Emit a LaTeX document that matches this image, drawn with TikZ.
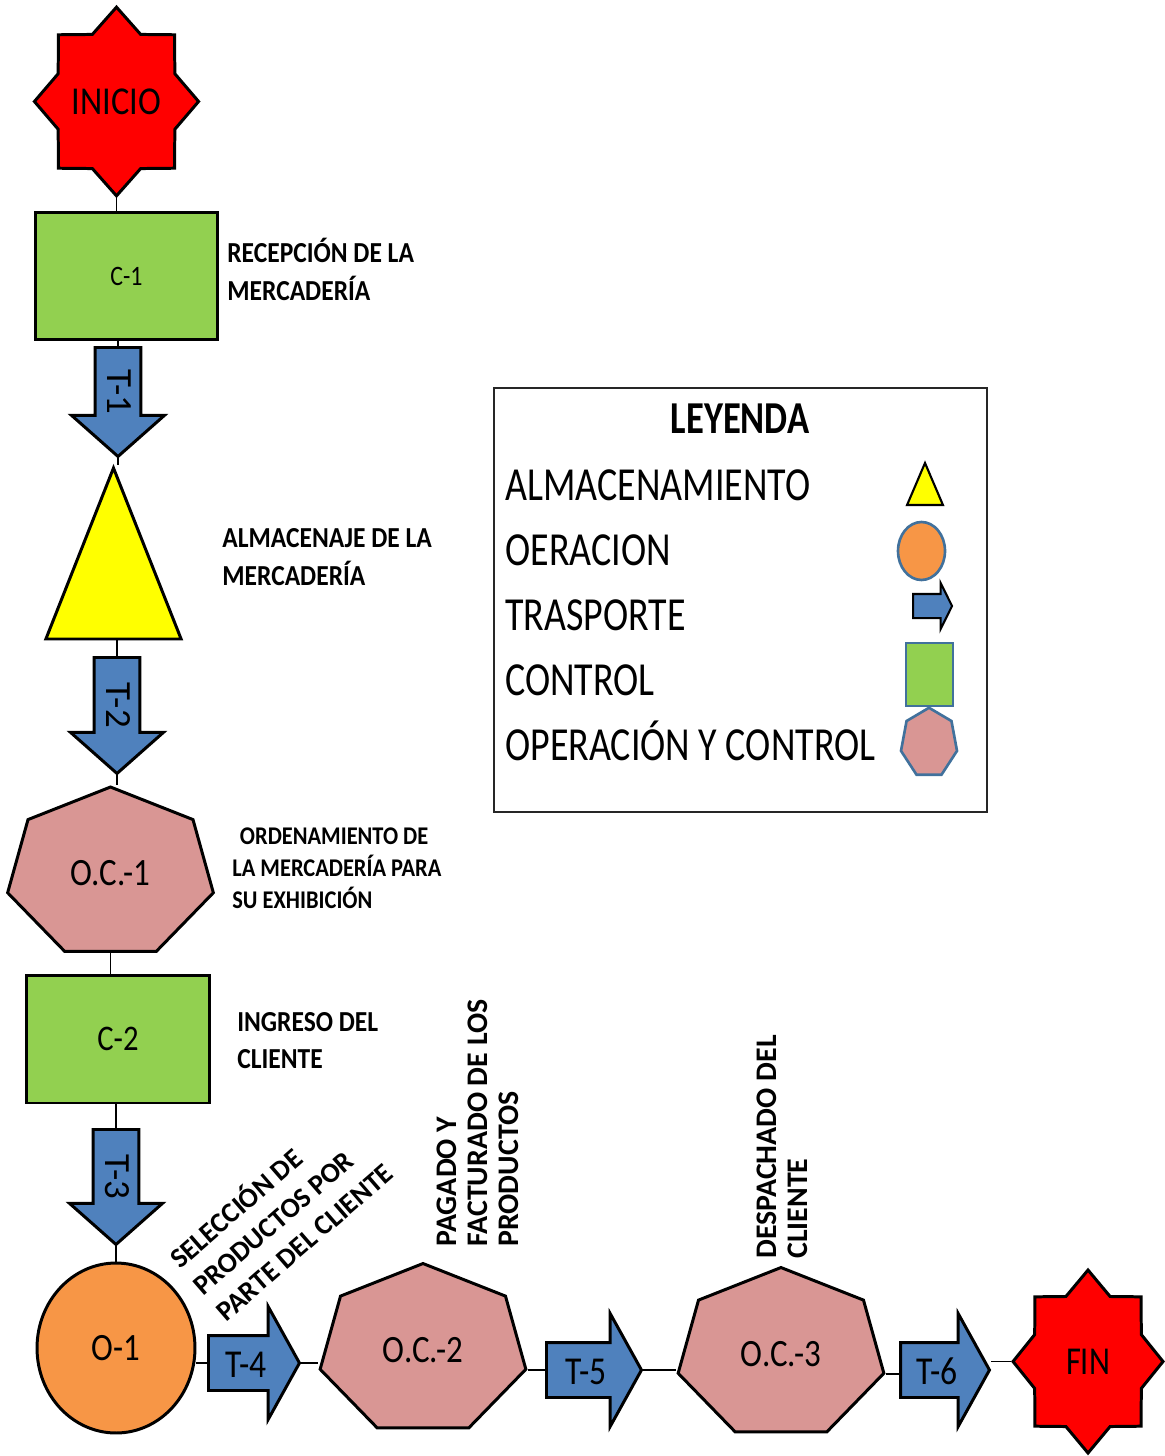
\documentclass[tikz,border=0pt]{standalone}
\usepackage{fontspec}
\setmainfont{Carlito}[FakeStretch=0.85]
\newfontfamily\rotfont{Carlito}
\newfontfamily\heptfont{Carlito}[FakeStretch=0.7]
\newfontfamily\lblfont{Carlito}[FakeStretch=0.88]
\newfontfamily\legfont{Carlito}[FakeStretch=0.8]
\usetikzlibrary{shapes.geometric, shapes.arrows, positioning}

\definecolor{inired}{HTML}{FF0000}
\definecolor{ctrlgreen}{HTML}{92D050}
\definecolor{almyellow}{HTML}{FFFF00}
\definecolor{trblue}{HTML}{4F81BD}
\definecolor{ocpink}{HTML}{D99694}
\definecolor{oporange}{HTML}{F79646}
\definecolor{iconblue}{HTML}{41719C}

\tikzset{
    link/.style={draw=black, line width=1.1pt},
    shapeline/.style={draw=black, line width=1.7pt},
    startend/.style={star, star points=8, star point ratio=1.3, fill=inired, shapeline, inner sep=0pt,
        font=\rotfont\fontsize{22.5}{27}\selectfont},
    control/.style={rectangle, fill=ctrlgreen, shapeline, minimum width=3.66cm, minimum height=2.56cm, inner sep=0pt},
    storage/.style={regular polygon, regular polygon sides=3, fill=almyellow, shapeline, inner sep=0pt},
    opctrl/.style={regular polygon, regular polygon sides=7, minimum size=3.46cm, xscale=1.22, fill=ocpink,
        shapeline, inner sep=0pt, font=\heptfont\fontsize{22}{26}\selectfont},
    operation/.style={ellipse, fill=oporange, shapeline, inner sep=0pt, font=\fontsize{22}{26}\selectfont},
    vtrans/.style={single arrow, rotate=-90, fill=trblue, shapeline, inner sep=0pt, text height=0.64cm,
        text depth=0.22cm, single arrow head extend=0.47cm, single arrow tip angle=97,
        font=\rotfont\fontsize{21}{25}\selectfont},
    htrans/.style={single arrow, fill=trblue, shapeline, inner sep=0pt, text height=0.8cm,
        text depth=0.24cm, single arrow head extend=0.58cm, single arrow tip angle=122,
        font=\fontsize{22.5}{27}\selectfont},
    lbl/.style={inner sep=0pt, align=left, font=\lblfont\bfseries\fontsize{16.5}{21.3}\selectfont},
    rotlbl/.style={inner sep=0pt, align=left, font=\rotfont\bfseries\fontsize{17}{17.4}\selectfont},
    leytext/.style={inner sep=0pt, font=\legfont\fontsize{27}{32}\selectfont},
    leyicon/.style={draw=iconblue, line width=1.5pt, inner sep=0pt},
}

\begin{document}
\begin{tikzpicture}[x=0.02cm, y=-0.02cm]
    \useasboundingbox (0,0) rectangle (1164,1456);

    % flujo vertical
    \node[startend, minimum size=3.74cm, xscale=0.87] (inicio) at (116.5,101.5) {INICIO};
    \node[control, font=\fontsize{16}{19}\selectfont] (c1) at (126.5,276) {C-1};
    \node[lbl, anchor=base west] (lblc1) at (227,300) {RECEPCIÓN DE LA\\MERCADERÍA};
    \node[vtrans, minimum height=2.18cm, anchor=tail] (t1) at (118,346) {T-1};
    \node[storage, minimum size=4.56cm, xscale=0.685] (alm) at (113.5,582) {};
    \node[lbl, anchor=base west] (lblalm) at (222,585) {ALMACENAJE DE LA\\MERCADERÍA};
    \node[vtrans, minimum height=2.32cm, anchor=tail] (t2) at (117,656) {T-2};
    \node[opctrl] (oc1) at (110.5,873.5) {O.C.-1};
    \node[lbl, anchor=base west, font=\lblfont\bfseries\fontsize{14.5}{18}\selectfont] (lbloc1) at (232,908)
        {\hspace{0.3em}ORDENAMIENTO DE\\LA MERCADERÍA PARA\\SU EXHIBICIÓN};
    \node[control, font=\fontsize{20.5}{24}\selectfont] (c2) at (118,1039) {C-2};
    \node[lbl, anchor=base west, font=\lblfont\bfseries\fontsize{16.5}{20.5}\selectfont] (lblc2) at (237,1068)
        {INGRESO DEL\\CLIENTE};
    \node[vtrans, minimum height=2.3cm, anchor=tail] (t3) at (116,1128) {T-3};

    % flujo horizontal
    \node[operation, minimum width=3.16cm, minimum height=3.4cm] (o1) at (116,1348) {O-1};
    \node[rotlbl, rotate=41, anchor=base west, font=\rotfont\bfseries\fontsize{16}{20}\selectfont] (lblo1)
        at (226,1323) {SELECCIÓN DE\\PRODUCTOS POR\\PARTE DEL CLIENTE};
    \node[htrans, minimum height=1.82cm, anchor=tail] (t4) at (207,1363) {T-4};
    \node[opctrl] (oc2) at (423,1350) {O.C.-2};
    \node[rotlbl, rotate=90, anchor=base west] (lbloc2) at (518,1247) {PAGADO Y\\FACTURADO DE LOS\\PRODUCTOS};
    \node[htrans, minimum height=1.9cm, anchor=tail] (t5) at (545,1370) {T-5};
    \node[opctrl] (oc3) at (781,1354) {O.C.-3};
    \node[rotlbl, rotate=90, anchor=base west] (lbloc3) at (807,1259) {DESPACHADO DEL\\CLIENTE};
    \node[htrans, minimum height=1.78cm, anchor=tail] (t6) at (899,1370) {T-6};
    \node[startend, minimum size=3.66cm, xscale=0.82] (fin) at (1088,1361.5) {FIN};

    % conectores
    \draw[link] (inicio.south) -- (inicio.south |- c1.north);
    \draw[link] (c1.south -| t1.tail) -- (t1.tail);
    \draw[link] (t1.tip) -- (t1.tip |- alm.north);
    \draw[link] (alm.south -| t2.tail) -- (t2.tail);
    \draw[link] (t2.tip) -- (t2.tip |- oc1.north);
    \draw[link] (oc1.south) -- (oc1.south |- c2.north);
    \draw[link] (c2.south -| t3.tail) -- (t3.tail);
    \draw[link] (t3.tip) -- (o1.north);
    \draw[link] (o1.east |- t4.tail) -- (t4.tail);
    \draw[link] (t4.tip) -- (t4.tip -| oc2.corner 3);
    \draw[link] (oc2.corner 6) -- (oc2.corner 6 -| t5.tail);
    \draw[link] (t5.tip) -- (t5.tip -| oc3.corner 3);
    \draw[link] (oc3.corner 6) -- (oc3.corner 6 -| t6.tail);
    \draw[link] (t6.tip |- fin.west) -- (fin.west);

    % leyenda
    \draw[line width=1.2pt, draw=black!85] (494,388) rectangle (987,812);
    \node[leytext, anchor=base, font=\legfont\bfseries\fontsize{26}{30}\selectfont] (leyenda) at (740,433) {LEYENDA};
    \foreach \t [count=\i] in {ALMACENAMIENTO, OERACION, TRASPORTE, CONTROL, OPERACIÓN Y CONTROL}
    {
        \node[leytext, anchor=base west] (ley\i) at (505,{435+65*\i}) {\t};
    };
    \node[storage, draw=black, line width=1.2pt, minimum size=1.12cm, xscale=0.74] (leyalm) at (925,491) {};
    \node[leyicon, ellipse, fill=oporange, minimum width=0.94cm, minimum height=1.16cm] (leyop) at (921.5,551) {};
    \node[single arrow, fill=trblue, draw=black, line width=1.2pt, inner sep=0pt, text height=0.44cm,
        text depth=0cm, minimum height=0.78cm, single arrow head extend=0.22cm, single arrow tip angle=127,
        anchor=tail] (leytr) at (912,606) {};
    \node[leyicon, rectangle, fill=ctrlgreen, minimum width=0.94cm, minimum height=1.26cm] (leyctrl) at (929.5,674.5) {};
    \node[leyicon, regular polygon, regular polygon sides=7, fill=ocpink, minimum size=1.41cm, xscale=0.815]
        (leyoc) at (929,743) {};
\end{tikzpicture}
\end{document}
